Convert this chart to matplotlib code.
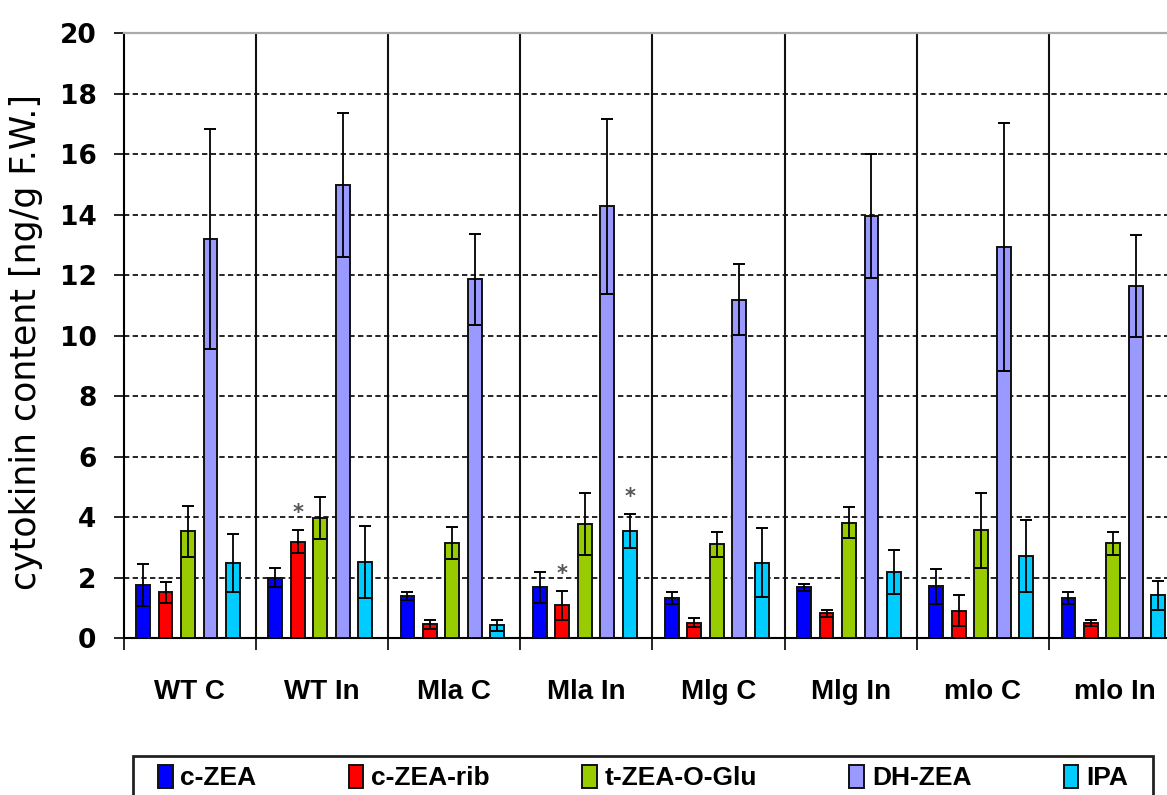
import matplotlib
matplotlib.use("Agg")
import matplotlib.pyplot as plt
from matplotlib.patches import Rectangle
import numpy as np

# ---- data ----
groups = ["WT C", "WT In", "Mla C", "Mla In", "Mlg C", "Mlg In", "mlo C", "mlo In"]
series_names = ["c-ZEA", "c-ZEA-rib", "t-ZEA-O-Glu", "DH-ZEA", "IPA"]
series_colors = ["#0000FF", "#FF0000", "#99CC00", "#9999FF", "#00CCFF"]

c_zea = [1.76, 2.00, 1.39, 1.68, 1.33, 1.68, 1.72, 1.33]
c_zea_err = [0.68, 0.32, 0.13, 0.51, 0.19, 0.13, 0.57, 0.19]
c_zea_rib = [1.52, 3.20, 0.47, 1.09, 0.52, 0.82, 0.91, 0.52]
c_zea_rib_err = [0.34, 0.37, 0.15, 0.47, 0.14, 0.13, 0.51, 0.10]
t_zea_o_glu = [3.54, 3.97, 3.15, 3.77, 3.11, 3.82, 3.57, 3.15]
t_zea_o_glu_err = [0.85, 0.70, 0.53, 1.03, 0.42, 0.52, 1.23, 0.38]
dh_zea = [13.2, 15.0, 11.87, 14.28, 11.2, 13.95, 12.93, 11.64]
dh_zea_err = [3.65, 2.38, 1.5, 2.9, 1.16, 2.05, 4.1, 1.68]
ipa = [2.49, 2.53, 0.43, 3.54, 2.49, 2.19, 2.72, 1.43]
ipa_err = [0.95, 1.19, 0.19, 0.57, 1.14, 0.72, 1.19, 0.48]

values = [c_zea, c_zea_rib, t_zea_o_glu, dh_zea, ipa]
errors = [c_zea_err, c_zea_rib_err, t_zea_o_glu_err, dh_zea_err, ipa_err]

# significance marks: (group index, series index)
stars = [(1, 1), (3, 1), (3, 4)]

yticks = [0, 2, 4, 6, 8, 10, 12, 14, 16, 18, 20]

# ---- figure ----
W, H = 1167, 795
fig = plt.figure(figsize=(W / 100, H / 100), dpi=100)
left_px, right_px, top_px, bot_px = 123.5, 1167, 33.3, 638.3
ax = fig.add_axes([left_px / W, 1 - bot_px / H, (right_px - left_px) / W, (bot_px - top_px) / H])
ax.set_axisbelow(True)

x0 = np.arange(len(groups))
first_off, step, bw = 0.148, 0.170, 0.105
for k, (vals, errs, col, name) in enumerate(zip(values, errors, series_colors, series_names)):
    xs = x0 + first_off + step * k
    ax.bar(xs, vals, width=bw, color=col, edgecolor="#111111", linewidth=1.4,
           label=name, zorder=3)
    ax.errorbar(xs, vals, yerr=errs, fmt="none", ecolor="black", elinewidth=1.3,
                capsize=4.2, capthick=1.4, zorder=4)

for g, s in stars:
    xs = g + first_off + step * s
    top = values[s][g] + errors[s][g]
    ax.annotate("*", xy=(xs, top), xytext=(0, 5), textcoords="offset points",
                ha="center", va="bottom", fontsize=15, color="#555555",
                fontweight="bold")

# grid lines
for yv in yticks[1:-1]:
    ax.axhline(yv, color="black", lw=1.2, linestyle=(0, (3.2, 2.0)), zorder=1)
for i in range(1, len(groups)):
    ax.axvline(i, color="#111111", lw=1.5, zorder=1)

# spines
ax.spines["right"].set_visible(False)
ax.spines["top"].set_color("#aaaaaa")
ax.spines["top"].set_linewidth(1.6)
ax.spines["left"].set_linewidth(1.5)
ax.spines["bottom"].set_linewidth(1.5)

# ticks
ax.set_yticks(yticks)
ax.set_yticklabels([str(v) for v in yticks], fontsize=19, fontweight="bold",
                   family="DejaVu Sans")
ax.tick_params(axis="y", direction="out", length=7.5, width=1.2, pad=12)

ax.set_xticks(np.arange(0, len(groups) + 1))
ax.set_xticklabels([])
ax.tick_params(axis="x", which="major", direction="out", length=8.5, width=1.2)
ax.set_xticks(x0 + 0.5, minor=True)
ax.set_xticklabels(groups, minor=True, fontsize=20, fontweight="bold",
                   family=["Liberation Sans", "DejaVu Sans"])
ax.tick_params(axis="x", which="minor", length=0, pad=29)

# limits after ticks (set_xticks may expand the view)
group_w = 132.2
ax.set_xlim(0, (right_px - left_px) / group_w)
ax.set_ylim(0, 20)

fig.text(26 / W, 1 - 342 / H, "cytokinin content [ng/g F.W.]", rotation=90,
         ha="center", va="center", fontsize=25, family="DejaVu Sans")

# legend: frame drawn separately, entries inside
frame_left, frame_right, frame_top = 133, 1153, 756
fig.patches.append(Rectangle((frame_left / W, -0.05), (frame_right - frame_left) / W,
                             1 - frame_top / H + 0.05, transform=fig.transFigure,
                             facecolor="white", edgecolor="#222222", linewidth=2.0,
                             zorder=0))
handles, labels = ax.get_legend_handles_labels()
ent_left, ent_right, ent_top = 158, 1128, 765
leg = fig.legend(handles, labels, loc="upper left", ncol=5, mode="expand",
                 bbox_to_anchor=(ent_left / W, -0.2, (ent_right - ent_left) / W, 0.2 + 1 - ent_top / H),
                 prop={"family": ["Liberation Sans Narrow", "Liberation Sans"], "weight": "bold", "size": 19},
                 frameon=False, handlelength=0.55, handleheight=0.95, handletextpad=0.3,
                 borderpad=0.0, borderaxespad=0)

fig.savefig("out.png", dpi=100)
